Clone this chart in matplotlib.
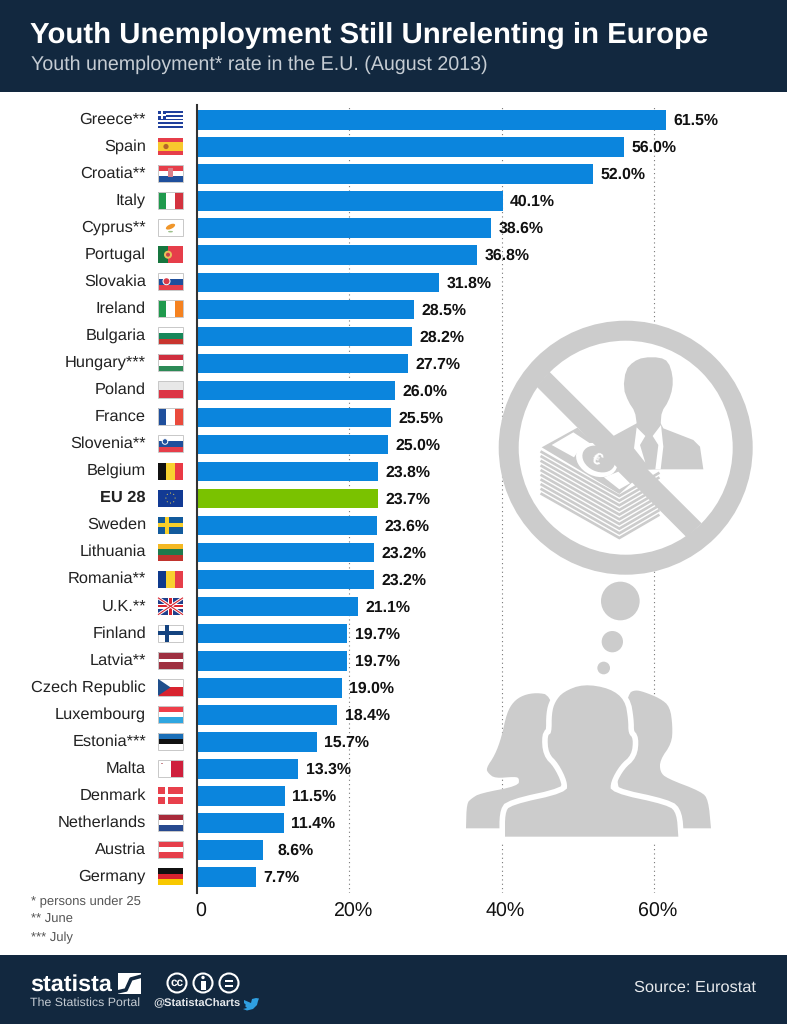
#!/usr/bin/env python3
import matplotlib
matplotlib.use("Agg")
import matplotlib.pyplot as plt
from matplotlib.patches import Circle, Ellipse, Polygon, Rectangle
from matplotlib.transforms import ScaledTranslation

plt.rcParams["font.family"] = ["Liberation Sans", "DejaVu Sans"]
plt.rcParams["text.hinting"] = "no_hinting"

countries = ["Greece**", "Spain", "Croatia**", "Italy", "Cyprus**", "Portugal", "Slovakia",
             "Ireland", "Bulgaria", "Hungary***", "Poland", "France", "Slovenia**", "Belgium",
             "EU 28", "Sweden", "Lithuania", "Romania**", "U.K.**", "Finland", "Latvia**",
             "Czech Republic", "Luxembourg", "Estonia***", "Malta", "Denmark", "Netherlands",
             "Austria", "Germany"]
rates = [61.5, 56.0, 52.0, 40.1, 38.6, 36.8, 31.8, 28.5, 28.2, 27.7, 26.0, 25.5, 25.0, 23.8,
         23.7, 23.6, 23.2, 23.2, 21.1, 19.7, 19.7, 19.0, 18.4, 15.7, 13.3, 11.5, 11.4, 8.6, 7.7]
tick_values = [0, 20, 40, 60]
tick_labels = ["0", "20%", "40%", "60%"]
notes = ["* persons under 25", "** June", "*** July"]

NAVY = "#12283f"
BLUE = "#0b85dd"
GREEN = "#7ac200"
ICON = "#cccccc"
RED = "#e63e4a"
FBLUE = "#1f4f9c"

# stripe colours per flag: h = horizontal bands, v = vertical bands
flags = {
    "Spain": ("h", [RED, "#f8c92e", "#f8c92e", RED]),
    "Croatia**": ("h", [RED, "#ffffff", FBLUE]),
    "Italy": ("v", ["#1f9a4d", "#ffffff", "#d3333f"]),
    "Cyprus**": ("h", ["#ffffff"]),
    "Portugal": ("v", ["#17763f", "#17763f", RED, RED, RED]),
    "Slovakia": ("h", ["#ffffff", FBLUE, RED]),
    "Ireland": ("v", ["#1f9a4d", "#ffffff", "#f58220"]),
    "Bulgaria": ("h", ["#ffffff", "#17875a", "#c8352e"]),
    "Hungary***": ("h", ["#cf2e3e", "#ffffff", "#2c8a56"]),
    "Poland": ("h", ["#e8e8e8", "#dc3545"]),
    "France": ("v", [FBLUE, "#ffffff", "#ea4a3c"]),
    "Slovenia**": ("h", ["#ffffff", FBLUE, RED]),
    "Belgium": ("v", ["#111111", "#f8d230", "#ea3a45"]),
    "EU 28": ("h", ["#123a94"]),
    "Sweden": ("h", ["#125a9c"]),
    "Lithuania": ("h", ["#f4b823", "#1f7a4d", "#c1342e"]),
    "Romania**": ("v", ["#0f3a8c", "#f8d230", "#e63e4a"]),
    "U.K.**": ("h", ["#1f3f8c"]),
    "Finland": ("h", ["#ffffff"]),
    "Latvia**": ("h", ["#9e3040", "#9e3040", "#ffffff", "#9e3040", "#9e3040"]),
    "Czech Republic": ("h", ["#ffffff", "#d8232f"]),
    "Luxembourg": ("h", ["#ee3e4a", "#ffffff", "#2fa6e0"]),
    "Estonia***": ("h", ["#1a6fb8", "#111111", "#ffffff"]),
    "Malta": ("v", ["#ffffff", "#cf1f3c"]),
    "Denmark": ("h", ["#e8404c"]),
    "Netherlands": ("h", ["#a82a3a", "#ffffff", "#27498f"]),
    "Austria": ("h", [RED, "#ffffff", RED]),
    "Germany": ("h", ["#111111", "#d8232f", "#f8c800"]),
}


def draw_flag(ov, name, cy):
    x0, w, h = 158, 25, 17
    y0 = cy - h / 2 - 0.5
    if name == "Greece**":
        for k in range(9):
            ov.add_patch(Rectangle((x0, y0 + k * h / 9), w, h / 9, fc="#1f3f9c" if k % 2 == 0 else "#ffffff", lw=0))
        ov.add_patch(Rectangle((x0, y0), 8, 7.6, fc="#1f3f9c", lw=0))
        ov.add_patch(Rectangle((x0 + 3.2, y0), 1.6, 7.6, fc="#ffffff", lw=0))
        ov.add_patch(Rectangle((x0, y0 + 3), 8, 1.6, fc="#ffffff", lw=0))
        return
    kind, cols = flags[name]
    n = len(cols)
    for k, c in enumerate(cols):
        if kind == "h":
            ov.add_patch(Rectangle((x0, y0 + k * h / n), w, h / n, fc=c, lw=0))
        else:
            ov.add_patch(Rectangle((x0 + k * w / n, y0), w / n, h, fc=c, lw=0))
    if "#ffffff" in cols or "#e8e8e8" in cols:
        ov.add_patch(Rectangle((x0, y0), w, h, fc="none", ec="#c8c8c8", lw=0.7))
    # small details on top of the bands
    if name == "Spain":
        ov.add_patch(Circle((x0 + 8, cy - 0.5), 2.6, fc="#b5652a", lw=0))
    elif name == "Croatia**":
        ov.add_patch(Rectangle((x0 + 10, y0 + 3), 5, 9, fc="#d9808a", lw=0))
    elif name == "Portugal":
        ov.add_patch(Circle((x0 + 10, cy - 0.5), 4, fc="#e8c05a", lw=0))
        ov.add_patch(Circle((x0 + 10, cy - 0.5), 2, fc="#c8404a", lw=0))
    elif name == "Slovakia":
        ov.add_patch(Circle((x0 + 8.5, cy - 1), 4, fc="#ffffff", lw=0))
        ov.add_patch(Circle((x0 + 8.5, cy - 1), 3, fc="#d83a4a", lw=0))
    elif name == "Slovenia**":
        ov.add_patch(Circle((x0 + 7, cy - 3), 2.8, fc=FBLUE, ec="#ffffff", lw=0.7))
    elif name == "Cyprus**":
        ov.add_patch(Ellipse((x0 + 12.5, cy - 1.5), 10, 4.5, angle=-25, fc="#f0962a", lw=0))
        ov.add_patch(Ellipse((x0 + 12.5, cy + 3.5), 5, 1.6, fc="#9cc08a", lw=0))
    elif name == "EU 28":
        for dx, dy in [(0, -5), (3.2, -3.7), (4.6, 0), (3.2, 3.7), (0, 5), (-3.2, 3.7), (-4.6, 0), (-3.2, -3.7)]:
            ov.add_patch(Circle((x0 + 12.5 + dx, cy - 0.5 + dy), 0.55, fc="#e8d050", lw=0))
    elif name == "Sweden":
        ov.add_patch(Rectangle((x0 + 7, y0), 3.6, h, fc="#f8cf2a", lw=0))
        ov.add_patch(Rectangle((x0, y0 + 6.7), w, 3.6, fc="#f8cf2a", lw=0))
    elif name == "Finland":
        ov.add_patch(Rectangle((x0 + 7, y0), 3.8, h, fc="#14437f", lw=0))
        ov.add_patch(Rectangle((x0, y0 + 6.6), w, 3.8, fc="#14437f", lw=0))
    elif name == "Denmark":
        ov.add_patch(Rectangle((x0 + 7, y0), 3.4, h, fc="#ffffff", lw=0))
        ov.add_patch(Rectangle((x0, y0 + 6.8), w, 3.4, fc="#ffffff", lw=0))
    elif name == "U.K.**":
        ov.plot([x0, x0 + w], [y0, y0 + h], color="#ffffff", lw=2.2, solid_capstyle="butt")
        ov.plot([x0, x0 + w], [y0 + h, y0], color="#ffffff", lw=2.2, solid_capstyle="butt")
        ov.plot([x0, x0 + w], [y0, y0 + h], color="#d8232f", lw=0.8, solid_capstyle="butt")
        ov.plot([x0, x0 + w], [y0 + h, y0], color="#d8232f", lw=0.8, solid_capstyle="butt")
        ov.add_patch(Rectangle((x0 + 10, y0), 5, h, fc="#ffffff", lw=0))
        ov.add_patch(Rectangle((x0, y0 + 6), w, 5, fc="#ffffff", lw=0))
        ov.add_patch(Rectangle((x0 + 11.3, y0), 2.4, h, fc="#d8232f", lw=0))
        ov.add_patch(Rectangle((x0, y0 + 7.3), w, 2.4, fc="#d8232f", lw=0))
    elif name == "Czech Republic":
        ov.add_patch(Polygon([(x0, y0), (x0 + 12.5, y0 + h / 2), (x0, y0 + h)], fc="#1f4f8c", lw=0))
    elif name == "Malta":
        ov.add_patch(Rectangle((x0 + 2.5, y0 + 3.5), 2.8, 0.9, fc="#c88a90", lw=0))
        ov.add_patch(Rectangle((x0 + 3.5, y0 + 2.5), 0.9, 2.8, fc="#c88a90", lw=0))


def zoomed(points):
    # icon outlines were traced on a 3x crop starting at (460, 330)
    return [(460 + x / 3, 330 + y / 3) for x, y in points]


def bill(points):
    # same idea, for the closer crop of the banknote starting at (530, 400)
    return [(530 + x / 3, 400 + y / 3) for x, y in points]


def smooth(points, passes=2):
    # corner cutting, repeat a point in the outline to keep that corner sharp
    for _ in range(passes):
        out = []
        for i, p in enumerate(points):
            q = points[(i + 1) % len(points)]
            out.append((0.75 * p[0] + 0.25 * q[0], 0.75 * p[1] + 0.25 * q[1]))
            out.append((0.25 * p[0] + 0.75 * q[0], 0.25 * p[1] + 0.75 * q[1]))
        points = out
    return points


def draw_icons(ov):
    ov.add_patch(Circle((625.7, 447.7), 127, fc=ICON, lw=0, zorder=3))
    ov.add_patch(Circle((625.7, 447.7), 107, fc="#ffffff", lw=0, zorder=3))

    # banknote stack
    for k in range(10):
        pts = zoomed([(245, 366 + 14 * k), (478, 498 + 14 * k), (595, 430 + 14 * k)])
        ov.plot([p[0] for p in pts], [p[1] for p in pts], color=ICON, lw=1.9, zorder=3.1,
                solid_joinstyle="miter")
    ov.add_patch(Polygon(zoomed([(245, 352), (352, 293), (525, 450), (478, 492)]), fc=ICON, lw=0, zorder=3.2))
    ov.add_patch(Polygon(bill([(65, 135), (130, 97), (180, 130), (148, 148), (132, 172)]), fc="#ffffff", lw=0, zorder=3.3))
    ov.add_patch(Polygon(bill([(222, 232), (265, 215), (300, 250), (268, 268)]), fc="#ffffff", lw=0, zorder=3.3))
    ov.add_patch(Ellipse((530 + 200 / 3, 400 + 180 / 3), 43, 32, angle=25, fc="#ffffff", lw=0, zorder=3.4))
    ov.add_patch(Ellipse((530 + 206 / 3, 400 + 177 / 3), 34, 25, angle=25, fc=ICON, lw=0, zorder=3.5))
    ov.text(530 + 200 / 3, 400 + 180 / 3, "€", fontsize=12, fontweight="bold", color="#ffffff",
            rotation=-30, ha="center", va="center", zorder=3.6)

    # man in a suit
    head = [(530, 280), (525, 245), (505, 215), (490, 175), (497, 120), (520, 95), (550, 82), (600, 82),
            (625, 95), (638, 135), (638, 175), (625, 215), (605, 245), (602, 280)]
    ov.add_patch(Polygon(zoomed(smooth(head + [(602, 300), (530, 300), (530, 280)], 1)), fc=ICON, lw=0, zorder=3.2))
    body = [(530, 280), (602, 280), (610, 295), (700, 330), (720, 350), (730, 418), (600, 418), (540, 420), (460, 318)]
    ov.add_patch(Polygon(zoomed(body), fc=ICON, lw=0, zorder=3.2))
    ov.add_patch(Polygon(zoomed([(530, 292), (556, 318), (540, 345), (556, 398), (522, 355)]), fc="#ffffff", lw=0, zorder=3.3))
    ov.add_patch(Polygon(zoomed([(603, 285), (578, 318), (595, 345), (586, 418), (602, 418), (610, 350)]), fc="#ffffff", lw=0, zorder=3.3))

    # crossing bar goes over the man and the money
    ov.add_patch(Polygon(zoomed([(268, 125), (725, 580), (680, 622), (230, 170)]), fc=ICON, lw=0, zorder=3.7))

    # thought bubbles
    for cx, cy, r in [(481, 813, 58), (457, 935, 32), (431, 1014, 19)]:
        ov.add_patch(Circle((460 + cx / 3, 330 + cy / 3), r / 3, fc=ICON, lw=0, zorder=3))

    # three people
    woman = [(18, 1495), (18, 1495), (18, 1495), (20, 1420), (35, 1405), (60, 1390), (175, 1368), (178, 1345),
             (165, 1340), (105, 1345), (85, 1330), (78, 1315), (105, 1275), (125, 1220), (140, 1150),
             (160, 1115), (190, 1095), (230, 1088), (270, 1095), (300, 1200), (320, 1400),
             (140, 1495), (140, 1495), (140, 1495)]
    right = [(505, 1090), (525, 1080), (550, 1085), (600, 1105), (630, 1130), (638, 1190), (635, 1240), (600, 1290),
             (600, 1325), (620, 1345), (725, 1385), (745, 1410), (753, 1495), (753, 1495), (753, 1495),
             (640, 1495), (640, 1495), (460, 1400), (480, 1200)]
    front = [(135, 1520), (135, 1520), (135, 1520), (135, 1450), (150, 1425), (320, 1388), (322, 1355), (295, 1300),
             (265, 1270), (262, 1215), (275, 1210), (275, 1150), (285, 1115), (310, 1085), (370, 1062), (450, 1075),
             (495, 1110), (505, 1170), (505, 1210), (520, 1225), (515, 1275), (480, 1305), (452, 1355), (452, 1388),
             (625, 1425), (650, 1450), (655, 1520), (655, 1520), (655, 1520)]
    ov.add_patch(Polygon(zoomed(smooth(woman)), fc=ICON, lw=0, zorder=3))
    ov.add_patch(Polygon(zoomed(smooth(right)), fc=ICON, lw=0, zorder=3))
    ov.add_patch(Polygon(zoomed(smooth(front)), fc=ICON, ec="#ffffff", lw=8, zorder=3.1))
    ov.add_patch(Polygon(zoomed(smooth(front)), fc=ICON, lw=0, zorder=3.2))


def draw_footer(ov):
    ov.text(30, 985, "statista", fontsize=16.8, fontweight="bold", color="#ffffff", va="center", ha="left")
    ov.add_patch(Rectangle((118, 972.5), 23, 21.5, fc="#ffffff", lw=0))
    ov.plot([117, 126, 131, 142], [992, 990, 979, 976], color=NAVY, lw=2.6)
    ov.text(30.5, 1003, "The Statistics Portal", fontsize=8.9, color="#c5ccd3", va="center")
    for cx in (177, 203, 229):
        ov.add_patch(Circle((cx, 983), 9.5, fc=NAVY, ec="#ffffff", lw=1.5))
    ov.text(177, 983, "cc", fontsize=8.5, fontweight="bold", color="#ffffff", ha="center", va="center")
    ov.add_patch(Circle((203, 977.5), 1.7, fc="#ffffff", lw=0))
    ov.add_patch(Rectangle((200.5, 980.5), 5, 9, fc="#ffffff", lw=0))
    ov.add_patch(Rectangle((225, 979.5), 8, 2, fc="#ffffff", lw=0))
    ov.add_patch(Rectangle((225, 984.5), 8, 2, fc="#ffffff", lw=0))
    ov.text(153, 1003, "@StatistaCharts", fontsize=8.1, fontweight="bold", color="#e6e9ec", va="center")
    bird = [(244, 1000), (251, 1003), (252, 999), (256, 998), (259, 998.5), (258, 1001), (257, 1005), (253, 1009),
            (247, 1010.5), (243, 1009), (247, 1008), (245, 1006), (246, 1005), (244, 1003)]
    ov.add_patch(Polygon(bird, fc="#2f9fe0", lw=0))
    ov.text(756, 988, "Source: Eurostat", fontsize=11.8, color="#e6e9ec", ha="right", va="center")


def main():
    fig = plt.figure(figsize=(7.87, 10.24), dpi=100, facecolor="#ffffff")

    # chart area in figure pixels: x=0 sits at 197 px, 7.62 px per percent
    left, top, bottom, right = 197, 105, 893, 787
    ax = fig.add_axes([left / 787, 1 - bottom / 1024, (right - left) / 787, (bottom - top) / 1024])
    ax.set_xlim(0, (right - left) / 7.62)
    row = 27.04
    ax.set_ylim((bottom - 120) / row, (top - 120) / row)

    pos = list(range(len(countries)))
    colors = [GREEN if c == "EU 28" else BLUE for c in countries]
    ax.barh(pos, rates, height=0.72, color=colors, zorder=2)
    for i, v in enumerate(rates):
        gap = 15 if countries[i] == "Austria" else 7.5
        ax.annotate(f"{v:.1f}%", (v, i), xytext=(gap * 0.72, -0.7), textcoords="offset points",
                    fontsize=11.4, fontweight="bold", color="#111111", va="center", ha="left", zorder=4)

    for v in tick_values[1:]:
        ax.axvline(v, color="#777777", lw=0.8, ls=(0, (1, 2.9)), zorder=1)

    for side in ("top", "right", "bottom"):
        ax.spines[side].set_visible(False)
    ax.spines["left"].set_color("#333333")
    ax.spines["left"].set_linewidth(1.5)
    ax.set_yticks([])
    ax.set_xticks(tick_values)
    ax.set_xticklabels(tick_labels, fontsize=14.1, color="#111111")
    ax.tick_params(axis="x", length=0, pad=6.7)
    shift = ScaledTranslation(3.5 / 100, 0, fig.dpi_scale_trans)
    for lab in ax.get_xticklabels():
        lab.set_transform(lab.get_transform() + shift)

    # pixel overlay for header, footer, flags and pictograms
    ov = fig.add_axes([0, 0, 1, 1], facecolor="none")
    ov.set_xlim(0, 787)
    ov.set_ylim(1024, 0)
    ov.axis("off")
    ov.add_patch(Rectangle((0, 0), 787, 92, fc=NAVY, lw=0))
    ov.add_patch(Rectangle((0, 955), 787, 69, fc=NAVY, lw=0))
    ov.text(30, 35.5, "Youth Unemployment Still Unrelenting in Europe", fontsize=21.2, fontweight="bold",
            color="#ffffff", va="center")
    ov.text(31, 65, "Youth unemployment* rate in the E.U. (August 2013)", fontsize=14.15,
            color="#c5ccd3", va="center")

    for i, name in enumerate(countries):
        cy = 120 + i * row
        ov.text(146, cy - 0.5, name, fontsize=11.8, color="#222222", ha="right", va="center",
                fontweight="bold" if name == "EU 28" else "normal")
        draw_flag(ov, name, cy)

    for y, note in zip((902, 920, 938), notes):
        ov.text(31, y, note, fontsize=9.4, color="#555555", va="center")

    draw_icons(ov)
    draw_footer(ov)

    fig.savefig("out.png", dpi=100)


if __name__ == "__main__":
    main()
